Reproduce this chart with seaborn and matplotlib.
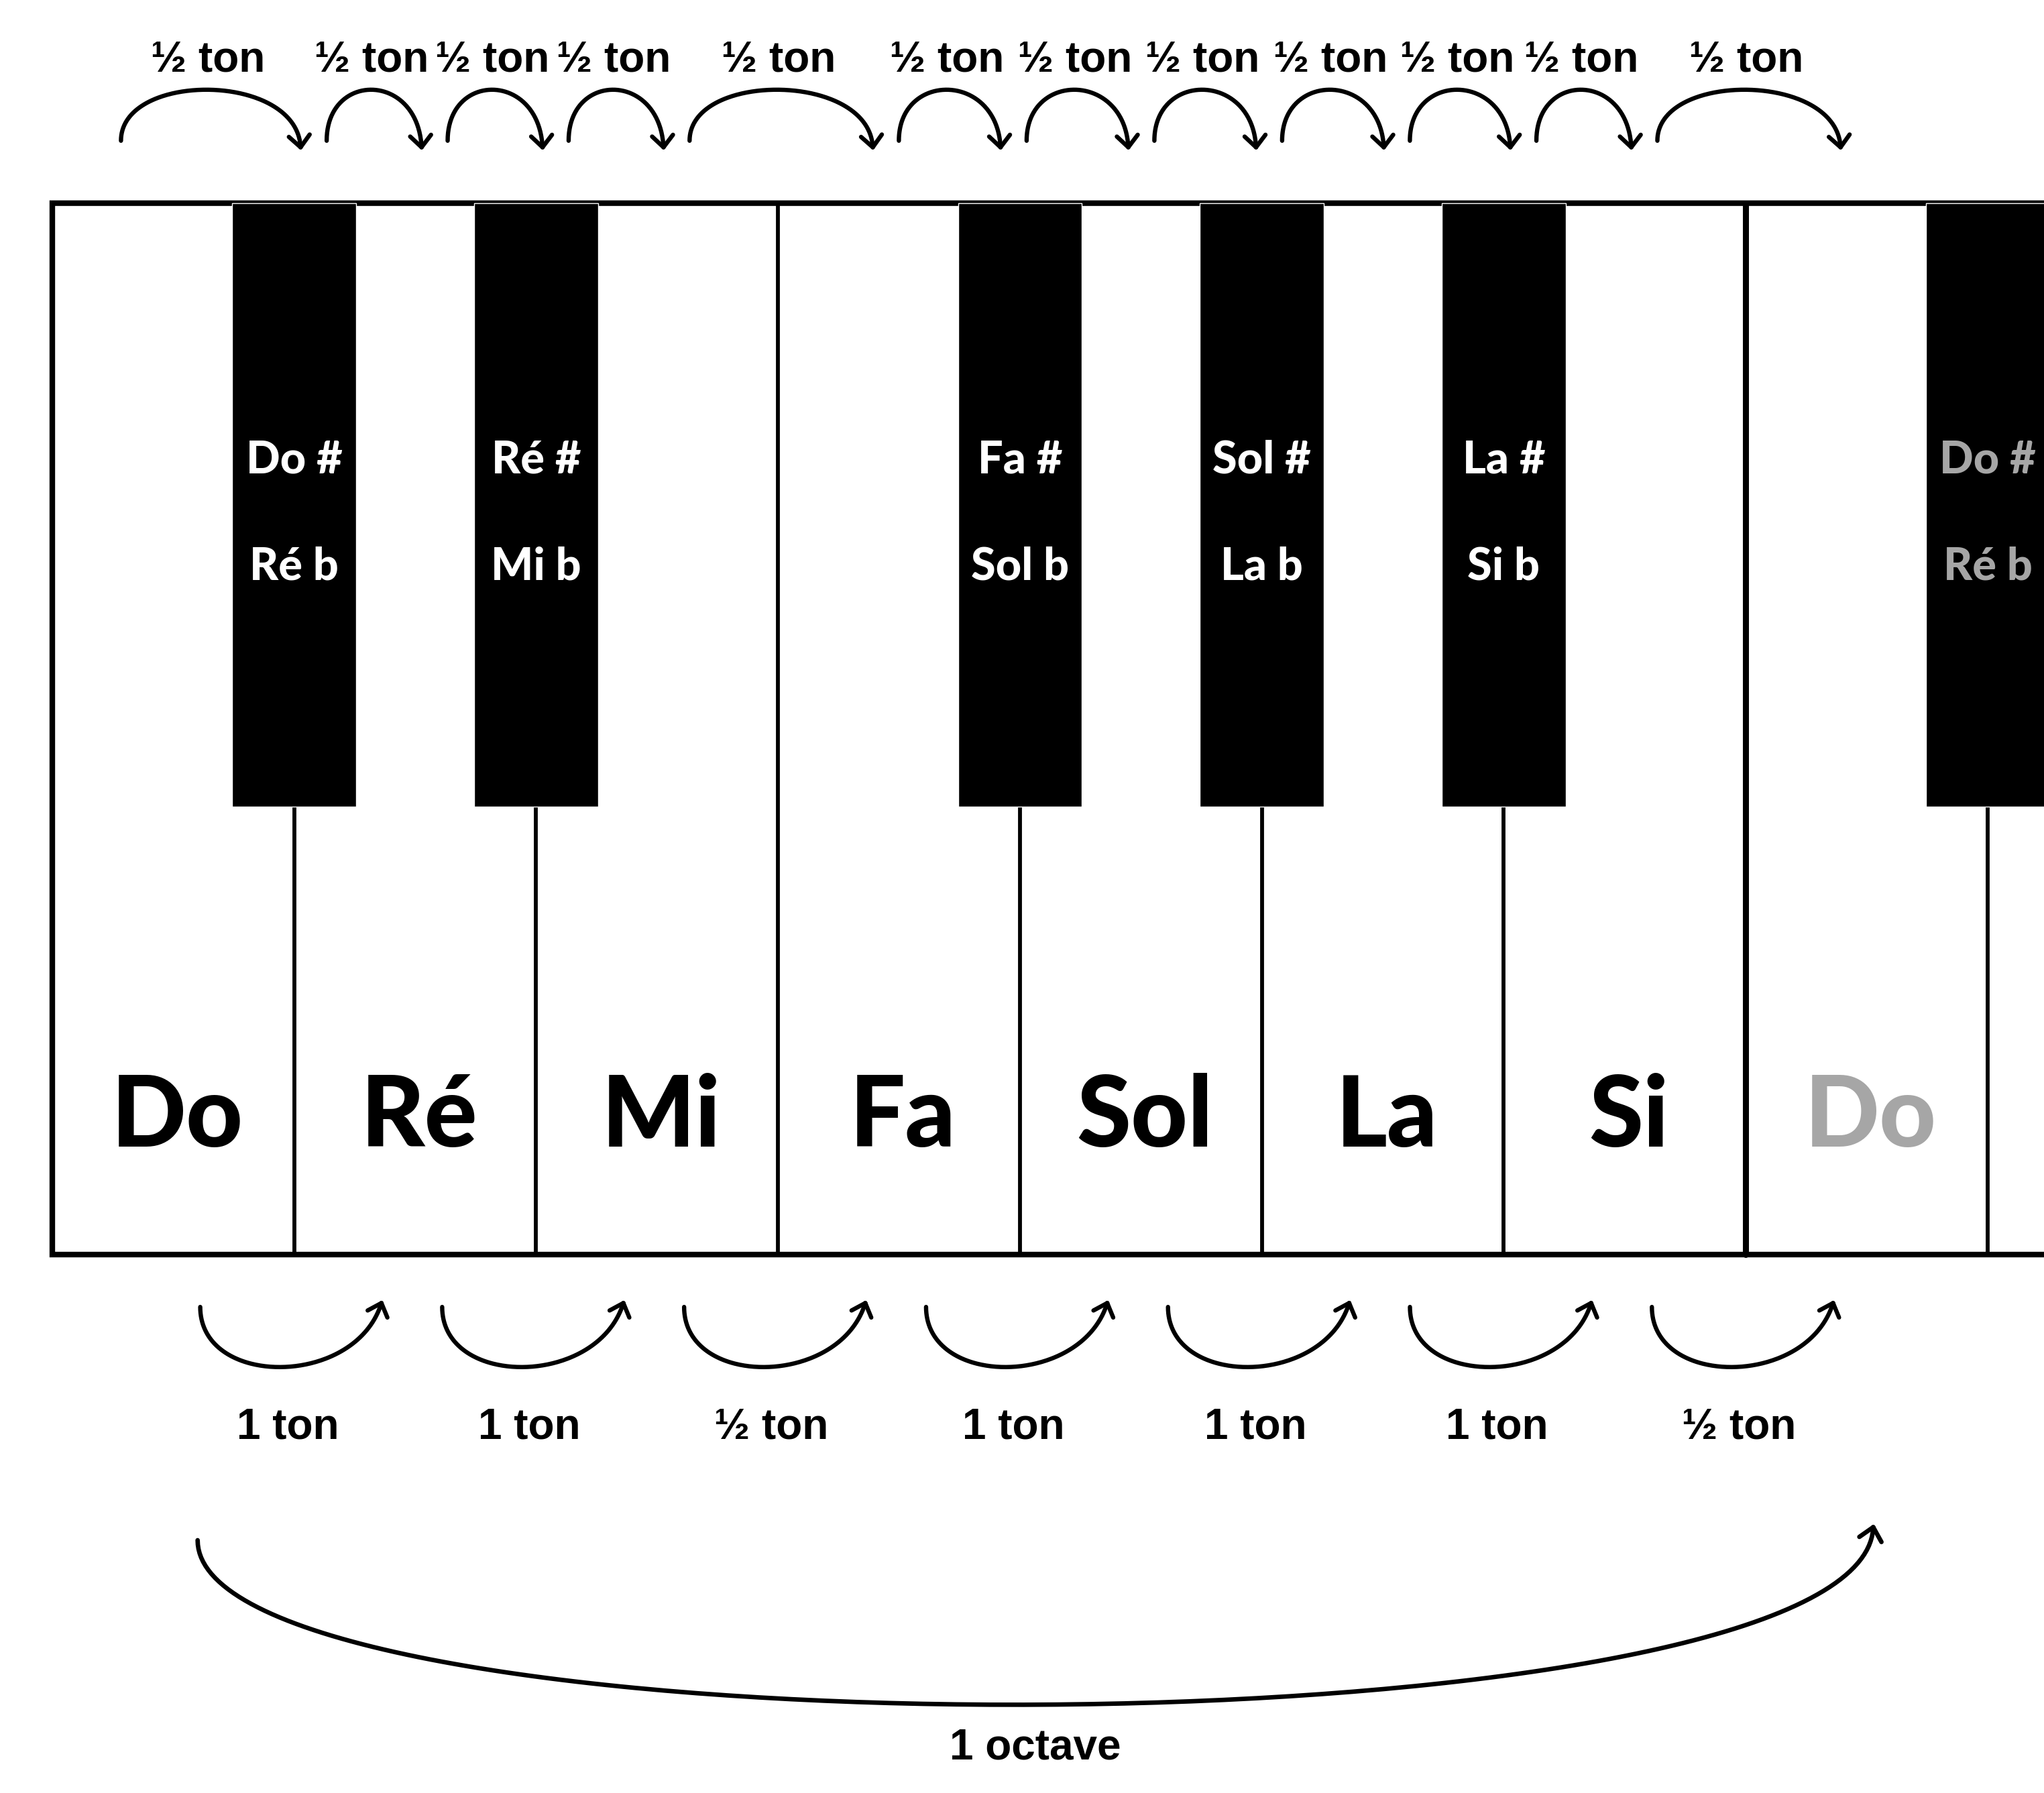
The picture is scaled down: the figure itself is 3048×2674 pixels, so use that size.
import numpy as np
import matplotlib
matplotlib.use("Agg")
import matplotlib.pyplot as plt
from matplotlib.patches import Rectangle
import seaborn as sns

# notes of the keyboard (the 8th white key starts the next octave, greyed out)
white_notes = ["Do", "Ré", "Mi", "Fa", "Sol", "La", "Si", "Do"]
black_sharps = ["Do #", "Ré #", "Fa #", "Sol #", "La #", "Do #"]
black_flats = ["Ré b", "Mi b", "Sol b", "La b", "Si b", "Ré b"]
black_after = [0, 1, 3, 4, 5, 7]          # white key on the left of each black key
tone_steps = [1, 1, 0.5, 1, 1, 1, 0.5]    # tones between consecutive white keys
semitone_label = "½ ton"
octave_label = "1 octave"

# layout (drawing units = reference pixels / 1.944)
W, H = 1568, 1376
x0, key_w = 40, 185.6
key_top, key_bot = 156, 963
black_w, black_bot = 95, 619
grey = "#a6a6a6"

sns.set_theme(style="white")
plt.rcParams["font.family"] = ["Lato", "DejaVu Sans"]
plt.rcParams["text.color"] = "black"
narrow = ["Liberation Sans", "DejaVu Sans"]

fig = plt.figure(figsize=(30.48, 26.74), dpi=100)
ax = fig.add_axes([0, 0, 1, 1])
ax.set_xlim(0, W)
ax.set_ylim(H, 0)
ax.axis("off")


def bezier(p0, p1, p2, p3, n=150):
    t = np.linspace(0, 1, n)[:, None]
    p0, p1, p2, p3 = map(np.array, (p0, p1, p2, p3))
    return (1 - t)**3 * p0 + 3 * t * (1 - t)**2 * p1 + 3 * t**2 * (1 - t) * p2 + t**3 * p3


def arrow(p0, p1, p2, p3, lw=4.6, head=12):
    pts = bezier(p0, p1, p2, p3)
    sns.lineplot(x=pts[:, 0], y=pts[:, 1], sort=False, estimator=None,
                 color="black", linewidth=lw, solid_capstyle="round", ax=ax)
    d = pts[-1] - pts[-5]
    d = d / np.hypot(*d)
    for a in (np.radians(42), -np.radians(42)):
        c, s = np.cos(a), np.sin(a)
        back = -np.array([c * d[0] - s * d[1], s * d[0] + c * d[1]])
        q = pts[-1] + head * back
        ax.plot([pts[-1, 0], q[0]], [pts[-1, 1], q[1]], color="black",
                lw=lw, solid_capstyle="round")


# keyboard
ax.add_patch(Rectangle((x0, key_top), W + 60 - x0, key_bot - key_top,
                       facecolor="white", edgecolor="black", lw=6, zorder=1))
for i in range(1, len(white_notes) + 1):
    x = x0 + i * key_w
    ax.plot([x, x], [key_top, key_bot], color="black",
            lw=6.5 if i == 7 else 4.2, zorder=2)

white_c = [x0 + (i + 0.5) * key_w for i in range(len(white_notes))]
black_c = [x0 + (i + 1) * key_w for i in black_after]
ax.bar(black_c, black_bot - key_top, width=black_w, bottom=key_top,
       color="black", zorder=3)

for i, name in enumerate(white_notes):
    ax.text(white_c[i] + 3, 880, name, ha="center", va="baseline",
            fontsize=106, fontweight="black",
            color=grey if i == 7 else "black", zorder=4)

for i, (sh, fl) in enumerate(zip(black_sharps, black_flats)):
    col = grey if black_after[i] == 7 else "white"
    ax.text(black_c[i], 363, sh, ha="center", va="baseline", fontsize=48,
            fontweight="black", color=col, zorder=4)
    ax.text(black_c[i], 445, fl, ha="center", va="baseline", fontsize=48,
            fontweight="black", color=col, zorder=4)

# chromatic positions Do .. Do
chrom = []
for i in range(len(white_notes)):
    chrom.append(white_c[i])
    if i in black_after and i < 7:
        chrom.append(x0 + (i + 1) * key_w)
semi = key_w / 2

# semitone arrows above: each one leaves a small gap after the previous one
s = chrom[0] - 40
for k in range(len(chrom) - 1):
    dist = chrom[k + 1] - chrom[k]
    e = chrom[k + 1] + 5 - 0.27 * (dist - semi)
    if k > 0:
        e = min(e, s + 78 + 0.68 * (dist - semi))
    arrow((s, 108), (s, 55), (e - 3, 55), (e, 113))
    ax.text((s + e) / 2 - 2, 55, semitone_label, ha="center", va="baseline",
            fontsize=46, fontweight="bold", family=narrow)
    s = e + 20

# tone arrows below
for i, step in enumerate(tone_steps):
    c = x0 + (i + 1) * key_w
    s, e = c - 72, c + 67
    arrow((s, 1003), (s, 1065), (e - 20, 1065), (e, 1000))
    lab = "1 ton" if step == 1 else semitone_label
    ax.text(c - 5, 1104, lab, ha="center", va="baseline",
            fontsize=46, fontweight="bold", family=narrow)

# octave arrow
s = x0 + key_w - 74
e = white_c[7] + 5
arrow((s, 1182), (s, 1352), (e - 7, 1352), (e, 1172), lw=4.8, head=13)
ax.text((s + e) / 2, 1350, octave_label, ha="center", va="baseline",
        fontsize=46, fontweight="bold", family=narrow)

fig.savefig("out.png", dpi=100, facecolor="white")
